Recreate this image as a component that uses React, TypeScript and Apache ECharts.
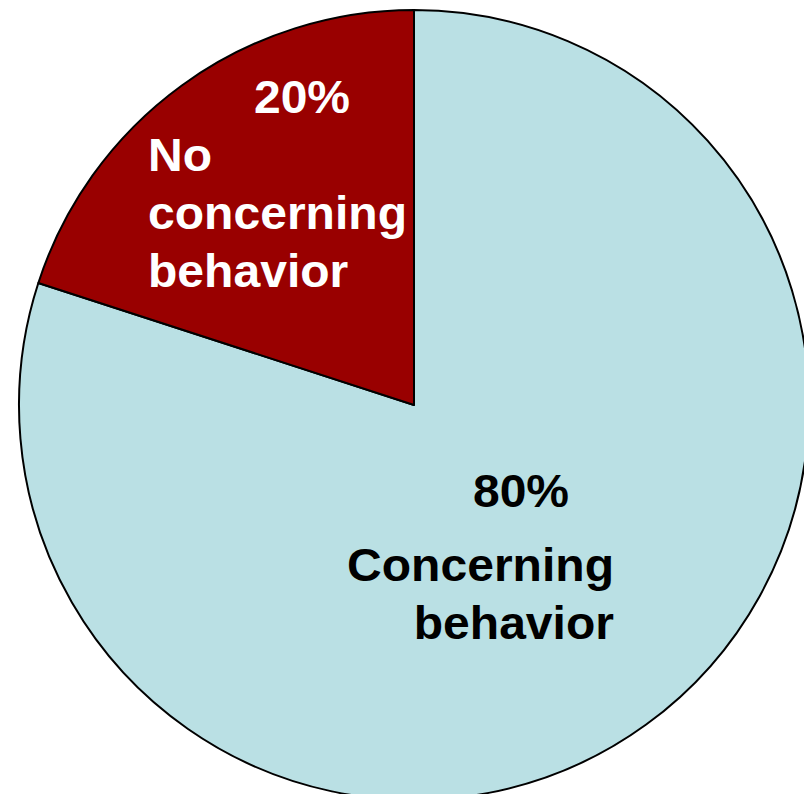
import React, { useEffect, useRef } from "react";
import * as echarts from "echarts";

const categories = ["Concerning behavior", "No concerning behavior"];
const values = [80, 20];
const percentLabels = ["80%", "20%"];
const labelLines = [
  ["Concerning", "behavior"],
  ["No", "concerning", "behavior"],
];
const colors = ["#BAE0E4", "#990000"];
const textColors = ["#000000", "#ffffff"];

export default function App() {
  const ref = useRef<HTMLDivElement>(null);
  useEffect(() => {
    if (!ref.current) return;
    const chart = echarts.init(ref.current, undefined, { renderer: "svg" });
    const font = "'Liberation Sans', Arial, sans-serif";
    const fs = 46;
    const lh = 58;
    const mk = (text: string, x: number, y: number, align: string, color: string) => ({
      type: "text",
      x,
      y,
      z: 100,
      scaleX: 1.045,
      silent: true,
      style: {
        text,
        fill: color,
        fontSize: fs,
        fontWeight: "bold",
        fontFamily: font,
        textAlign: align,
        textVerticalAlign: "middle",
      },
    });
    const graphics: any[] = [];
    graphics.push(mk(percentLabels[0], 521, 491, "center", textColors[0]));
    labelLines[0].forEach((t, i) => graphics.push(mk(t, 614, 565 + i * lh, "right", textColors[0])));
    graphics.push(mk(percentLabels[1], 302, 97, "center", textColors[1]));
    labelLines[1].forEach((t, i) => graphics.push(mk(t, 148, 155 + i * lh, "left", textColors[1])));

    chart.setOption({
      animation: false,
      series: [
        {
          type: "pie",
          center: [414, 405],
          radius: 395,
          startAngle: 90,
          clockwise: true,
          silent: true,
          z: 1,
          label: { show: false },
          labelLine: { show: false },
          itemStyle: { borderColor: "#000", borderWidth: 2 },
          data: categories.map((name, i) => ({
            name,
            value: values[i],
            itemStyle: { color: colors[i] },
          })),
        },
      ],
      graphic: { elements: graphics },
    });
    return () => chart.dispose();
  }, []);
  return (
    <div
      ref={ref}
      style={{ position: "fixed", left: 0, top: 0, width: 804, height: 794, background: "#fff" }}
    />
  );
}
